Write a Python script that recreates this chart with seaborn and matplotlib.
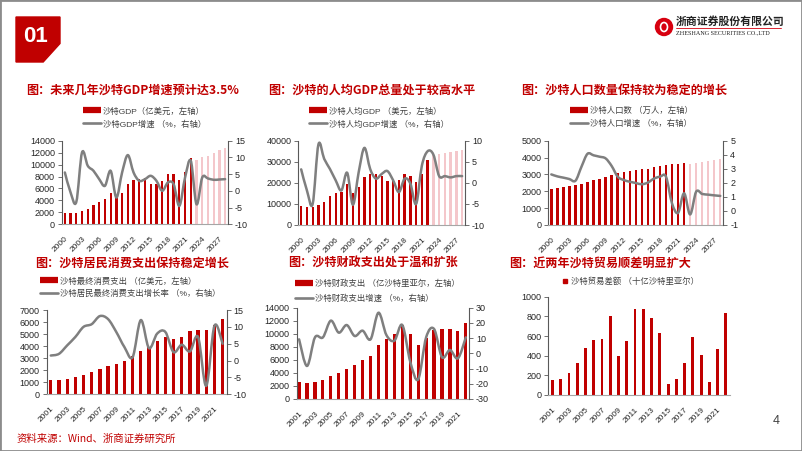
import numpy as np
import pandas as pd
import matplotlib
matplotlib.use('Agg')
import matplotlib.pyplot as plt
from matplotlib.path import Path
from matplotlib.patches import PathPatch, Polygon, Rectangle, Ellipse
from matplotlib.lines import Line2D
import seaborn as sns

# ---- data ----
years_long = list(range(2000, 2029))          # 2023-2028 are forecasts
n_actual = 23                                 # 2000-2022

gdp = [1890, 1840, 1890, 2150, 2580, 3250, 3800, 4200, 5200, 4400, 5300, 6770, 7500, 7560,
       7800, 6720, 6720, 7280, 8450, 8450, 7450, 8700, 11100, 10800, 11200, 11500, 11900,
       12400, 12750]
gdp_growth = [5.5, -0.5, -3.3, 11.5, 7.5, 6.0, 3.5, 1.5, 6.0, -2.0, 5.5, 10.7, 5.5, 3.0, 3.5,
              4.5, 3.0, 0.0, 2.5, 2.0, -4.5, 4.0, 9.0, -4.0, 4.0, 3.7, 3.3, 3.4, 3.5]

gdp_pc = [9170, 8700, 8700, 9490, 11070, 13750, 15000, 15800, 19300, 15300, 18200, 22600,
          24200, 24000, 23400, 20900, 20900, 21300, 24200, 23400, 20600, 24350, 30800, 33200,
          33700, 34000, 34500, 35000, 35600]
gdp_pc_growth = [3.2, -1.8, -5.0, 9.1, 5.7, 3.3, 0.6, -1.8, 2.4, -5.2, 2.5, 8.3, 3.3, 1.0, 2.1,
                 2.8, 0.6, -2.2, 1.0, -0.2, -5.0, 4.1, 7.5, 6.7, 1.6, 1.6, 1.3, 1.6, 1.6]

population = [2150, 2210, 2270, 2330, 2370, 2450, 2550, 2670, 2750, 2850, 2945, 3060, 3140,
              3220, 3260, 3300, 3340, 3420, 3500, 3550, 3600, 3620, 3660, 3640, 3700, 3740,
              3780, 3840, 3900]
pop_growth = [2.6, 2.46, 2.37, 2.27, 2.15, 3.15, 4.07, 3.96, 3.86, 3.74, 3.2, 2.44, 2.2, 2.08,
              1.99, 1.9, 2.02, 2.3, 2.44, 2.44, 0.54, -0.14, 1.26, -0.25, 1.37, 1.21, 1.16,
              1.11, 1.07]

years_short = list(range(2001, 2023))

consumption = [1190, 1190, 1300, 1440, 1600, 1850, 2075, 2320, 2545, 2770, 3200, 3600, 3960,
               4450, 4730, 4620, 4730, 5260, 5370, 5340, 5780, 6230]
cons_growth = [1.5, 2.0, 4.5, 7.0, 10.0, 10.8, 13.2, 12.3, 8.5, 4.0, 1.0, 12.0, 3.7, 8.0, 8.5,
               2.5, 4.7, 2.7, 7.0, -7.5, 10.3, 5.0]

fiscal = [2550, 2400, 2660, 2860, 3525, 3935, 4550, 5210, 5980, 6590, 8280, 9150, 9910, 11340,
          9960, 8280, 9300, 10580, 10680, 10730, 10430, 11650]
fiscal_growth = [9.2, -8.3, 10.5, 10.5, 21.5, 13.6, 18.6, 11.4, 14.9, 9.2, 26.7, 12.0, 8.3, 18.6,
                 -5.5, -17.1, 10.5, 16.0, -2.6, 2.2, -3.3, 10.5]

trade = [152, 163, 224, 322, 478, 556, 566, 800, 393, 546, 878, 875, 780, 634, 108, 163, 329,
         593, 407, 132, 464, 834]

titles = ['图：未来几年沙特GDP增速预计达3.5%', '图：沙特的人均GDP总量处于较高水平',
          '图：沙特人口数量保持较为稳定的增长', '图：沙特居民消费支出保持稳定增长',
          '图：沙特财政支出处于温和扩张', '图：近两年沙特贸易顺差明显扩大']

RED = '#C00000'
PINK = '#F4C7CB'
GRAY = '#7F7F7F'
W, H = 802, 451

sns.set_theme(style='white')
plt.rcParams['font.family'] = ['Liberation Sans', 'Noto Sans CJK SC', 'DejaVu Sans']
plt.rcParams['axes.unicode_minus'] = False

fig = plt.figure(figsize=(W / 100, H / 100), dpi=100)
fig.patch.set_facecolor('white')


def rect(left, top, width, height):
    return [left / W, 1 - (top + height) / H, width / W, height / H]


def smooth_line(ax, y):
    # Excel-style smoothed line through the data points (Catmull-Rom as bezier)
    pts = np.column_stack([np.arange(len(y), dtype=float), np.asarray(y, float)])
    ext = np.vstack([pts[0], pts, pts[-1]])
    verts, codes = [pts[0]], [Path.MOVETO]
    for i in range(len(pts) - 1):
        p0, p1, p2, p3 = ext[i], ext[i + 1], ext[i + 2], ext[i + 3]
        verts += [p1 + (p2 - p0) / 6, p2 - (p3 - p1) / 6, p2]
        codes += [Path.CURVE4] * 3
    ax.add_patch(PathPatch(Path(verts, codes), fill=False, edgecolor=GRAY, lw=1.8,
                           capstyle='round', joinstyle='round'))


def style_axis(ax, yticks, years, step):
    ax.set_ylim(yticks[0], yticks[-1])
    ax.set_yticks(yticks)
    ax.set_yticklabels([f'{v:g}' for v in yticks], fontsize=6.5, color='#262626')
    ax.set_xticks(range(0, len(years), step))
    ax.set_xticklabels([str(y) for y in years[::step]], rotation=45, ha='right',
                       rotation_mode='anchor', fontsize=6, color='#262626')
    ax.set_xlabel('')
    ax.set_ylabel('')
    ax.tick_params(axis='y', left=True, length=3, width=0.6, color='#595959', pad=2)
    ax.tick_params(axis='x', bottom=False, pad=2)
    for s in ['top', 'right']:
        ax.spines[s].set_visible(False)
    ax.spines['left'].set_color('#595959')
    ax.spines['left'].set_linewidth(0.8)
    ax.spines['bottom'].set_color('#A6A6A6')
    ax.spines['bottom'].set_linewidth(0.8)


def right_axis(ax, ticks, growth):
    ax2 = ax.twinx()
    smooth_line(ax2, growth)
    ax2.set_ylim(ticks[0], ticks[-1])
    ax2.set_yticks(ticks)
    ax2.set_yticklabels([f'{v:g}' for v in ticks], fontsize=6.5, color='#262626')
    ax2.tick_params(axis='y', right=True, length=3, width=0.6, color='#595959', pad=2)
    ax2.grid(False)
    for s in ['top', 'left', 'bottom']:
        ax2.spines[s].set_visible(False)
    ax2.spines['right'].set_color('#595959')
    ax2.spines['right'].set_linewidth(0.8)
    return ax2


def forecast_bars(ax, values):
    df = pd.DataFrame({'year': years_long, 'value': values,
                       'kind': ['actual'] * n_actual + ['forecast'] * (len(years_long) - n_actual)})
    sns.barplot(data=df, x='year', y='value', hue='kind', palette={'actual': RED, 'forecast': PINK},
                dodge=False, width=0.4, saturation=1, linewidth=0, legend=False, ax=ax)


def plain_bars(ax, values, width=0.4):
    sns.barplot(x=years_short, y=values, color=RED, width=width, saturation=1, linewidth=0, ax=ax)


def legend(x, top, labels, spacing, square=False):
    if square:
        handles = [Line2D([], [], color=RED, marker='s', markersize=3, lw=0)]
    else:
        handles = [Line2D([], [], color=RED, lw=4.5, solid_capstyle='butt'),
                   Line2D([], [], color=GRAY, lw=1.9)]
    fig.legend(handles, labels, loc='upper left', bbox_to_anchor=(x / W, 1 - top / H),
               frameon=False, fontsize=6, handlelength=0.8 if square else 2.1,
               handletextpad=0.3, labelspacing=spacing, borderpad=0, borderaxespad=0,
               labelcolor='#404040')


# ---- panel 1: GDP ----
ax = fig.add_axes(rect(62, 140.7, 166, 83.6))
forecast_bars(ax, gdp)
style_axis(ax, list(range(0, 14001, 2000)), years_long, 3)
right_axis(ax, [-10, -5, 0, 5, 10, 15], gdp_growth)
legend(83, 107, ['沙特GDP（亿美元，左轴）', '沙特GDP增速 （%，右轴）'], 0.55)

# ---- panel 2: GDP per capita ----
ax = fig.add_axes(rect(298.3, 140.7, 166.7, 84.3))
forecast_bars(ax, gdp_pc)
style_axis(ax, list(range(0, 40001, 10000)), years_long, 3)
right_axis(ax, [-10, -5, 0, 5, 10], gdp_pc_growth)
legend(309, 107, ['沙特人均GDP （美元，左轴）', '沙特人均GDP增速 （%，右轴）'], 0.55)

# ---- panel 3: population ----
ax = fig.add_axes(rect(548.3, 140.7, 175, 84.3))
forecast_bars(ax, population)
style_axis(ax, list(range(0, 5001, 1000)), years_long, 3)
right_axis(ax, [-1, 0, 1, 2, 3, 4, 5], pop_growth)
legend(570, 107, ['沙特人口数 （万人，左轴）', '沙特人口增速 （%，右轴）'], 0.55)

# ---- panel 4: consumption ----
ax = fig.add_axes(rect(46.7, 310, 180, 84.3))
plain_bars(ax, consumption)
style_axis(ax, list(range(0, 7001, 1000)), years_short, 2)
right_axis(ax, [-10, -5, 0, 5, 10, 15], cons_growth)
legend(40, 277, ['沙特最终消费支出 （亿美元，左轴）', '沙特居民最终消费支出增长率 （%，右轴）'], 0.5)

# ---- panel 5: fiscal expenditure ----
ax = fig.add_axes(rect(296.7, 307.7, 172.3, 91.3))
plain_bars(ax, fiscal)
style_axis(ax, list(range(0, 14001, 2000)), years_short, 2)
ax.set_xlim(-0.3, len(years_short) - 0.6)
right_axis(ax, [-30, -20, -10, 0, 10, 20, 30], fiscal_growth)
legend(295, 279.5, ['沙特财政支出 （亿沙特里亚尔，左轴）', '沙特财政支出增速 （%，右轴）'], 0.8)

# ---- panel 6: trade balance ----
ax = fig.add_axes(rect(548.3, 296.7, 181.7, 98.3))
plain_bars(ax, trade, width=0.35)
style_axis(ax, list(range(0, 1001, 200)), years_short, 2)
legend(562, 277, ['沙特贸易差额 （十亿沙特里亚尔）'], 0.5, square=True)

# ---- panel titles ----
title_pos = [(133, 90), (372, 90), (624, 90), (132, 263), (373, 263), (600, 263)]
for t, (x, y) in zip(titles, title_pos):
    fig.text(x / W, 1 - y / H, t, ha='center', va='center', fontsize=8.7, fontweight='bold',
             color=RED, family=['Noto Sans CJK SC'])

# ---- slide decorations ----
fig.patches.append(Polygon([(16 / W, 1 - 17 / H), (60 / W, 1 - 17 / H), (60 / W, 1 - 43.5 / H),
                            (43.2 / W, 1 - 62 / H), (16 / W, 1 - 62 / H)],
                           closed=True, color=RED, transform=fig.transFigure))
fig.text(35 / W, 1 - 36 / H, '01', ha='center', va='center', fontsize=16, fontweight='bold',
         color='white')
fig.patches.append(Ellipse((664 / W, 1 - 27 / H), 17 / W, 17 / H, color='#D7000F',
                           transform=fig.transFigure))
fig.patches.append(Ellipse((664 / W, 1 - 27 / H), 7 / W, 9 / H, fill=False, edgecolor='white',
                           lw=1.2, transform=fig.transFigure))
fig.text(676 / W, 1 - 21 / H, '浙商证券股份有限公司', ha='left', va='center', fontsize=7.8,
         fontweight='bold', color='#222222', family=['Noto Sans CJK SC'])
fig.add_artist(Line2D([676 / W, 781 / W], [1 - 28 / H, 1 - 28 / H], color='#D7000F', lw=0.6,
                      transform=fig.transFigure))
fig.text(676 / W, 1 - 33 / H, 'ZHESHANG SECURITIES CO.,LTD', ha='left', va='center',
         fontsize=4.4, color='#222222', family=['Liberation Serif'])
fig.text(17 / W, 1 - 439 / H, '资料来源：Wind、浙商证券研究所', ha='left', va='center',
         fontsize=7.5, color=RED, family=['Noto Sans CJK SC'])
fig.text(776 / W, 1 - 421 / H, '4', ha='center', va='center', fontsize=9, color='#404040')
fig.patches.append(Rectangle((0, 0), 1, 1, fill=False, edgecolor='#8C8C8C', lw=2,
                             transform=fig.transFigure))

fig.savefig('out.png', dpi=100)
